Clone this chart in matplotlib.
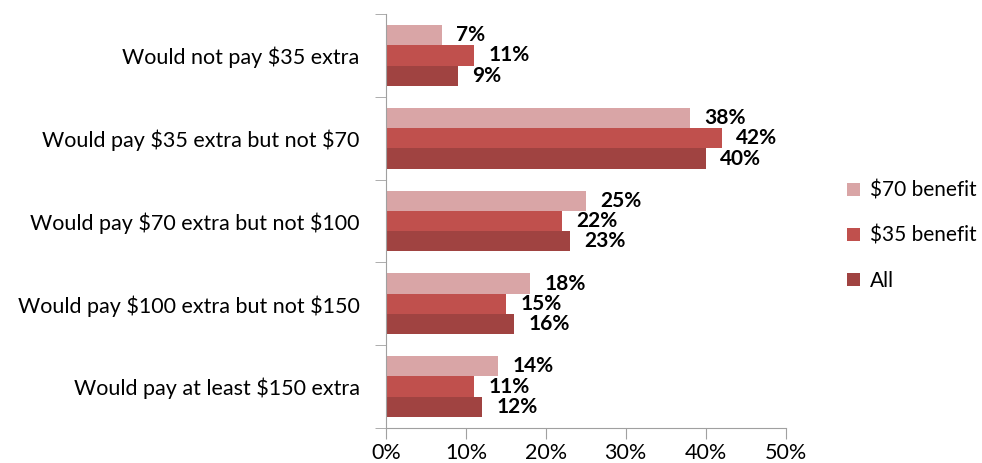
import matplotlib
matplotlib.use("Agg")
import matplotlib.pyplot as plt
import numpy as np

plt.rcParams['font.family'] = ['Lato', 'DejaVu Sans']
plt.rcParams['text.parse_math'] = False

categories = ["Would not pay $35 extra",
              "Would pay $35 extra but not $70",
              "Would pay $70 extra but not $100",
              "Would pay $100 extra but not $150",
              "Would pay at least $150 extra"]
series_names = ["$70 benefit", "$35 benefit", "All"]
benefit70 = [7, 38, 25, 18, 14]
benefit35 = [11, 42, 22, 15, 11]
all_resp = [9, 40, 23, 16, 12]
colors = ["#D9A5A6", "#C0504D", "#A04341"]

fig = plt.figure(figsize=(9.82, 4.63), dpi=100)
ax = fig.add_axes([0.393, 0.0756, 0.407, 0.894])

y = np.arange(len(categories))
h = 0.245
offsets = [-h, 0, h]
for vals, name, c, off in zip([benefit70, benefit35, all_resp], series_names, colors, offsets):
    bars = ax.barh(y + off, vals, height=h, color=c, label=name)
    for b, v in zip(bars, vals):
        ax.text(v + 1.8, b.get_y() + b.get_height() / 2, f"{v}%",
                va="center", ha="left", fontsize=15, fontweight="bold", color="black")

ax.set_xlim(0, 50)
ax.set_ylim(len(categories) - 0.5, -0.5)
ax.set_xticks(np.arange(0, 51, 10))
ax.set_xticklabels([f"{t}%" for t in range(0, 51, 10)], fontsize=15.5)

# category labels at centre, tick marks at the boundaries
ax.set_yticks(y)
ax.set_yticklabels(categories, fontsize=15.5)
ax.tick_params(axis="y", length=0, pad=19)
ax.set_yticks(np.arange(-0.5, len(categories)), minor=True)
ax.tick_params(axis="y", which="minor", length=8, color="#A0A0A0")
ax.tick_params(axis="x", length=8, color="#A0A0A0", pad=3)

for s in ["top", "right"]:
    ax.spines[s].set_visible(False)
for s in ["left", "bottom"]:
    ax.spines[s].set_color("#A0A0A0")

ax.legend(loc="center left", bbox_to_anchor=(1.107, 0.465), frameon=False,
          fontsize=15, handlelength=0.6, handleheight=0.6, labelspacing=1.2,
          handletextpad=0.5)

fig.savefig("out.png", dpi=100)
